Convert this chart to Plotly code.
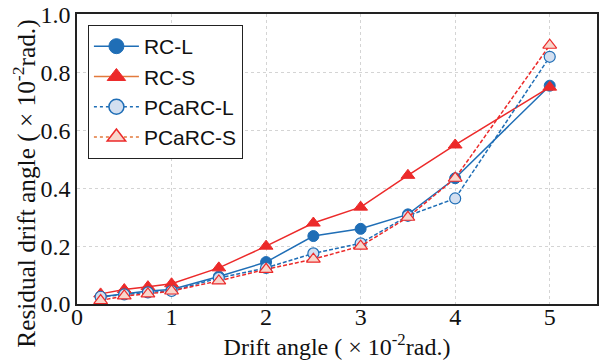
import plotly.graph_objects as go

drift = [0.25, 0.5, 0.75, 1.0, 1.5, 2.0, 2.5, 3.0, 3.5, 4.0, 5.0]
rc_l = [0.025, 0.035, 0.045, 0.05, 0.095, 0.145, 0.235, 0.26, 0.31, 0.435, 0.755]
rc_s = [0.035, 0.05, 0.06, 0.07, 0.125, 0.2, 0.28, 0.335, 0.445, 0.55, 0.75]
pc_l = [0.025, 0.033, 0.04, 0.045, 0.09, 0.125, 0.175, 0.21, 0.305, 0.365, 0.855]
pc_s = [0.012, 0.028, 0.035, 0.045, 0.08, 0.12, 0.155, 0.2, 0.3, 0.435, 0.895]
names = ["RC-L", "RC-S", "PCaRC-L", "PCaRC-S"]
x_ticks = [0, 1, 2, 3, 4, 5]
y_ticks = [0.0, 0.2, 0.4, 0.6, 0.8, 1.0]
x_title = "Drift angle ( \u00d7 10<sup>-2</sup>rad.)"
y_title = "Residual drift angle ( \u00d7 10<sup>-2</sup>rad.)"

BLUE = "#1f6eb6"
RED = "#ec2a2a"
ORANGE = "#e27a3c"
LBLUE = "#d3dff0"
LPINK = "#f8d6cc"
SERIF = "Liberation Serif, Times New Roman, Times, serif"

fig = go.Figure()
# data traces (plot)
fig.add_trace(go.Scatter(x=drift, y=rc_l, mode="lines+markers", showlegend=False,
                         line=dict(color=BLUE, width=1.5),
                         marker=dict(symbol="circle", size=11, color=BLUE, line=dict(color=BLUE, width=1))))
fig.add_trace(go.Scatter(x=drift, y=rc_s, mode="lines+markers", showlegend=False,
                         line=dict(color=RED, width=1.5),
                         marker=dict(symbol="triangle-up", size=12, color=RED, line=dict(color=RED, width=1))))
fig.add_trace(go.Scatter(x=drift, y=pc_l, mode="lines+markers", showlegend=False,
                         line=dict(color=BLUE, width=1.5, dash="4px,2px"),
                         marker=dict(symbol="circle", size=11, color=LBLUE, line=dict(color=BLUE, width=1.2))))
fig.add_trace(go.Scatter(x=drift, y=pc_s, mode="lines+markers", showlegend=False,
                         line=dict(color=RED, width=1.5, dash="4px,2px"),
                         marker=dict(symbol="triangle-up", size=12, color=LPINK, line=dict(color=RED, width=1.2))))

# legend entries
leg_styles = [
    dict(line=dict(color=BLUE, width=1.5), marker=dict(symbol="circle", size=15, color=BLUE, line=dict(color=BLUE, width=1))),
    dict(line=dict(color=ORANGE, width=1.5), marker=dict(symbol="triangle-up", size=17, color=RED, line=dict(color=RED, width=1))),
    dict(line=dict(color=BLUE, width=1.5, dash="dot"), marker=dict(symbol="circle", size=15, color=LBLUE, line=dict(color=BLUE, width=1.5))),
    dict(line=dict(color=ORANGE, width=1.5, dash="dot"), marker=dict(symbol="triangle-up", size=17, color=LPINK, line=dict(color=RED, width=1.5))),
]
for i, (nm, st) in enumerate(zip(names, leg_styles)):
    fig.add_trace(go.Scatter(x=[None], y=[None], name=nm, mode="lines+markers",
                             legendgroup=f"g{i}", **st))

axis_common = dict(showline=True, linecolor="#222", linewidth=1.5, mirror=True,
                   showgrid=True, gridcolor="#d4d4d4", griddash="3px,3px", gridwidth=1,
                   zeroline=False, ticks="", ticklen=0, ticklabeloverflow="allow",
                   tickfont=dict(family=SERIF, size=24, color="#111"))

fig.update_layout(
    width=601, height=361,
    margin=dict(l=77, r=2, t=10, b=57),
    paper_bgcolor="white", plot_bgcolor="white",
    xaxis=dict(range=[0, 5.5], tickvals=x_ticks, ticktext=[str(v) for v in x_ticks],
               ticklabelstandoff=-10,
               title=dict(text=x_title, standoff=0,
                          font=dict(family=SERIF, size=24, color="#111")),
               **axis_common),
    yaxis=dict(range=[0, 1.003], tickvals=y_ticks, ticktext=[f"{v:.1f}" for v in y_ticks],
               **axis_common),
    legend=dict(x=0.021, y=0.962, xanchor="left", yanchor="top",
                bgcolor="white", bordercolor="#222", borderwidth=1,
                font=dict(family="Liberation Sans, Arial, sans-serif", size=21, color="#111"),
                tracegroupgap=0, traceorder="grouped", itemwidth=45),
    showlegend=True,
    annotations=[dict(text=y_title, textangle=-90, xref="paper", yref="paper",
                      x=-0.1, y=0.415, xanchor="center", yanchor="middle",
                      showarrow=False, font=dict(family=SERIF, size=25.3, color="#111"))],
)

fig.write_html("out.html", config={"displayModeBar": False},
               post_script="document.body.style.margin='0';")
